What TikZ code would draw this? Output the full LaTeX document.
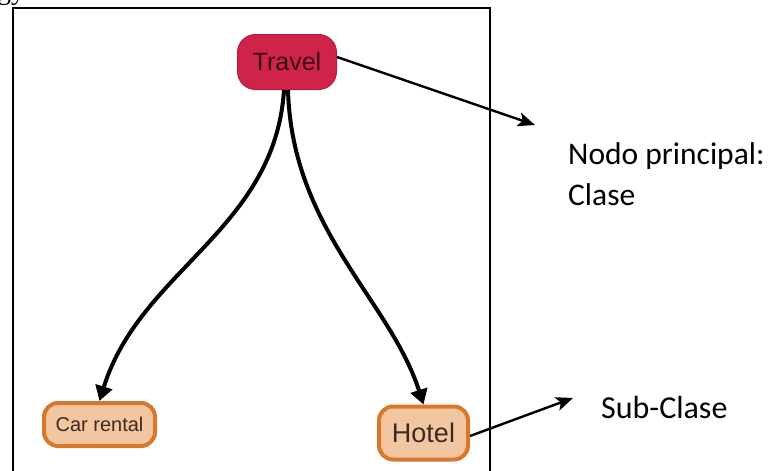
\documentclass[tikz,border=0pt]{standalone}
\usepackage{fontspec}
\setmainfont{Carlito}
\newfontfamily\nodefont{Liberation Sans}
\newfontfamily\serifpart{Liberation Serif}
\usetikzlibrary{arrows.meta}
\definecolor{travelred}{HTML}{D0234A}
\definecolor{traveltext}{HTML}{3A0A14}
\definecolor{subfill}{HTML}{F3C6A2}
\definecolor{subline}{HTML}{D8782C}
\definecolor{subtext}{HTML}{3A2A22}
\tikzset{
  mainclass/.style={draw=travelred!85!black, line width=1pt, fill=travelred,
    rounded corners=18pt, minimum width=99pt, minimum height=55pt,
    text=traveltext, font=\nodefont\fontsize{25}{29}\selectfont},
  subclass/.style={draw=subline, line width=4pt, fill=subfill,
    rounded corners=14pt, text=subtext},
  hierarchy/.style={line width=4pt, -{Triangle[length=15pt,width=17pt]}},
  pointer/.style={line width=2.4pt, -{Stealth[length=17pt,width=14pt,inset=4pt]}},
  caption/.style={font=\fontsize{31.5}{38}\selectfont, align=left, inner sep=0pt}
}
\begin{document}
\begin{tikzpicture}[x=1pt,y=-1pt]
  \useasboundingbox (0,0) rectangle (769,471);
  % fragment of the preceding line of text
  \begin{scope}
    \clip (0,0) rectangle (769,471);
    \node[anchor=base west, inner sep=0pt, font=\serifpart\fontsize{28}{30}\selectfont] (frag) at (-3,-1) {gy.};
  \end{scope}
  % frame around the graph
  \draw[line width=2pt] (13,480) -- (13,8) -- (490,8) -- (490,480);
  % nodes
  \node[mainclass] (travel) at (287,62) {Travel};
  \node[subclass, minimum width=111pt, minimum height=43pt,
        font=\nodefont\fontsize{20}{24}\selectfont] (car) at (99.5,424.5) {Car rental};
  \node[subclass, minimum width=89pt, minimum height=53pt,
        font=\nodefont\fontsize{27}{30}\selectfont] (hotel) at (423.5,433) {Hotel};
  % hierarchy edges
  \draw[hierarchy] ([xshift=-3pt]travel.south) .. controls (275,230) and (140,270) .. (car.north);
  \draw[hierarchy] ([xshift=1pt]travel.south) .. controls (292,230) and (390,300) .. (hotel.north);
  % labels
  \coordinate (mainTip) at (535,125);
  \coordinate (subTip) at (573,398);
  \node[caption, anchor=base west] (mainlabel) at (568,205.5) {Nodo principal:\\[3pt]Clase};
  \node[caption, anchor=base west, font=\fontsize{32}{38}\selectfont] (sublabel) at (601,418) {Sub-Clase};
  \draw[pointer] (travel.east) ++(0,-5) -- (mainTip);
  \draw[pointer] ([yshift=-3pt]hotel.east) -- (subTip);
\end{tikzpicture}
\end{document}
